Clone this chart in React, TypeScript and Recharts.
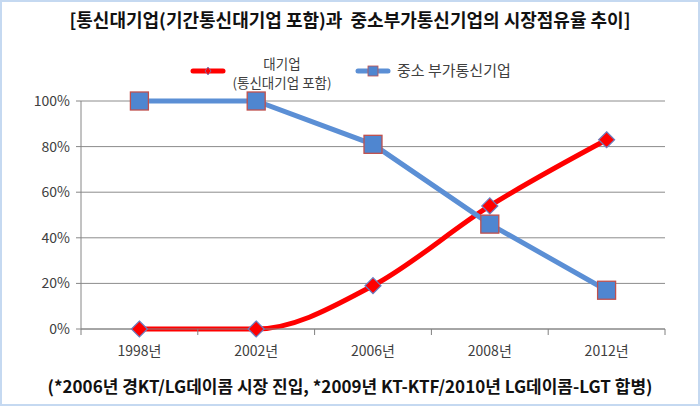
import { CartesianGrid, Line, LineChart, XAxis, YAxis } from "recharts";

const years = ["1998년", "2002년", "2006년", "2008년", "2012년"];
const largeShare = [0, 0, 19, 54, 83];
const smallShare = [100, 100, 81, 46, 17];
const yTicks = [0, 20, 40, 60, 80, 100];

const data = years.map((year, i) => ({
  year,
  large: largeShare[i],
  small: smallShare[i],
}));

const FONT = "'Noto Sans CJK KR', 'Noto Sans', sans-serif";
const RED = "#ff0000";
const BLUE = "#5b8fd5";

function Diamond({ cx, cy }: any) {
  const r = 8;
  return (
    <path
      d={`M${cx},${cy - r}L${cx + r},${cy}L${cx},${cy + r}L${cx - r},${cy}Z`}
      fill={RED}
      stroke="#6a7fc0"
      strokeWidth={1.2}
    />
  );
}

function Square({ cx, cy }: any) {
  const h = 9;
  return (
    <rect
      x={cx - h}
      y={cy - h}
      width={h * 2}
      height={h * 2}
      fill="#4f86d0"
      stroke="#c0504d"
      strokeWidth={1.3}
    />
  );
}

// labels at band centres, small tick marks at the band edges (Excel style)
function XTick({ x, y, payload, index, width, visibleTicksCount }: any) {
  const count = visibleTicksCount || years.length;
  const plotW = width || 584;
  const off = payload.offset || plotW / count / 2;
  const top = y - 8;
  return (
    <g>
      <line x1={x - off} x2={x - off} y1={top} y2={top + 6} stroke="#808080" />
      {index === count - 1 && (
        <line x1={x + off} x2={x + off} y1={top} y2={top + 6} stroke="#808080" />
      )}
      <text x={x} y={y + 19} textAnchor="middle" fill="#404040" fontSize={14} fontFamily={FONT}>
        {payload.value}
      </text>
    </g>
  );
}

export default function App() {
  return (
    <div
      style={{
        position: "relative",
        width: 700,
        height: 406,
        boxSizing: "border-box",
        border: "2px solid #c5d9f1",
        background: "#fff",
        fontFamily: FONT,
      }}
    >
      <style>{`body{margin:0}`}</style>
      <div
        style={{
          position: "absolute",
          top: 4,
          left: 0,
          width: "100%",
          textAlign: "center",
          fontSize: 18,
          fontWeight: 700,
          color: "#111",
          whiteSpace: "nowrap",
        }}
      >
        [통신대기업(기간통신대기업 포함)과&nbsp;&nbsp;중소부가통신기업의 시장점유율 추이]
      </div>

      <svg width={36} height={14} style={{ position: "absolute", left: 188, top: 62 }}>
        <line x1={3} x2={33} y1={7} y2={7} stroke={RED} strokeWidth={5} strokeLinecap="round" />
        <path d="M18,3L21,7L18,11L15,7Z" fill={RED} stroke="#6a7fc0" strokeWidth={0.8} />
      </svg>
      <div
        style={{
          position: "absolute",
          left: 230,
          width: 100,
          top: 53,
          fontSize: 13.5,
          lineHeight: "16px",
          color: "#404040",
          textAlign: "center",
        }}
      >
        대기업
      </div>
      <div
        style={{
          position: "absolute",
          left: 220,
          width: 120,
          top: 72,
          fontSize: 13.5,
          lineHeight: "16px",
          color: "#404040",
          textAlign: "center",
          whiteSpace: "nowrap",
        }}
      >
        (통신대기업 포함)
      </div>

      <svg width={36} height={14} style={{ position: "absolute", left: 353, top: 62 }}>
        <line x1={3} x2={33} y1={7} y2={7} stroke={BLUE} strokeWidth={5} strokeLinecap="round" />
        <rect x={13} y={2} width={10} height={10} fill="#4f86d0" stroke="#c0504d" strokeWidth={0.8} />
      </svg>
      <div
        style={{
          position: "absolute",
          left: 395,
          top: 59,
          fontSize: 15,
          lineHeight: "18px",
          color: "#404040",
          whiteSpace: "nowrap",
        }}
      >
        중소 부가통신기업
      </div>

      <div style={{ position: "absolute", left: -2, top: -2 }}>
        <LineChart
          width={700}
          height={406}
          data={data}
          margin={{ top: 101, right: 35, bottom: 47, left: 0 }}
        >
          <CartesianGrid vertical={false} stroke="#8c8c8c" strokeWidth={1} />
          <XAxis
            dataKey="year"
            scale="band"
            height={30}
            axisLine={{ stroke: "#868686" }}
            tickLine={false}
            tick={<XTick />}
            interval={0}
          />
          <YAxis
            width={81}
            domain={[0, 100]}
            ticks={yTicks}
            tickFormatter={(v) => `${v}%`}
            axisLine={{ stroke: "#868686" }}
            tickLine={{ stroke: "#868686" }}
            tickSize={5}
            tickMargin={6}
            tick={{ fill: "#404040", fontSize: 14, fontFamily: FONT }}
          />
          <Line
            type="monotone"
            dataKey="large"
            stroke={RED}
            strokeWidth={5}
            dot={<Diamond />}
            activeDot={false}
            isAnimationActive={false}
          />
          <Line
            type="linear"
            dataKey="small"
            stroke={BLUE}
            strokeWidth={5}
            dot={<Square />}
            activeDot={false}
            isAnimationActive={false}
          />
        </LineChart>
      </div>

      <div
        style={{
          position: "absolute",
          top: 371,
          left: 0,
          width: "100%",
          textAlign: "center",
          fontSize: 17,
          fontWeight: 700,
          color: "#111",
          whiteSpace: "nowrap",
        }}
      >
        (*2006년 경KT/LG데이콤 시장 진입, *2009년 KT-KTF/2010년 LG데이콤-LGT 합병)
      </div>
    </div>
  );
}
